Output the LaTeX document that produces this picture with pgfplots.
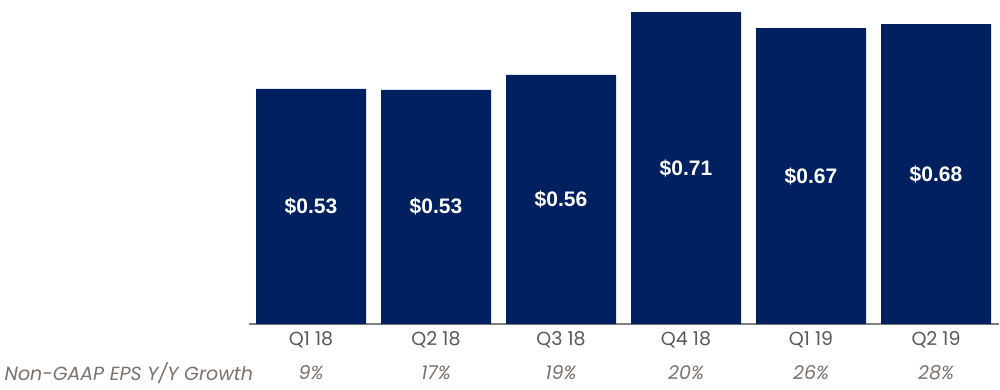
\documentclass[border=0pt]{standalone}
\usepackage{pgfplots}
\pgfplotsset{compat=1.18}
\usepackage{pgfplotstable}
\usepackage{fontspec}
\setmainfont{Poppins}
\newfontfamily\labfont{Liberation Sans}
\definecolor{navy}{HTML}{012060}
\definecolor{ticktxt}{HTML}{595959}
\definecolor{pcttxt}{HTML}{7A716B}
\definecolor{axline}{HTML}{7F7F7F}
\pgfplotstableread{
x v lab pct
0 0.533 0.53 9
1 0.531 0.53 17
2 0.565 0.56 19
3 0.707 0.71 20
4 0.671 0.67 26
5 0.680 0.68 28
}\eps
\begin{document}
\begin{tikzpicture}
\useasboundingbox (-248.5pt,-65pt) rectangle (751.5pt,324pt);
\begin{axis}[
  at={(0pt,0pt)}, anchor=south west,
  scale only axis, width=750pt, height=324pt,
  xmin=-0.5, xmax=5.5, ymin=0, ymax=0.7347,
  axis y line=none, axis x line*=bottom,
  x axis line style={draw=axline, line width=1.2pt, -},
  xtick=data, xticklabels={Q1 18,Q2 18,Q3 18,Q4 18,Q1 19,Q2 19},
  major tick length=0pt,
  xticklabel style={font=\fontsize{19}{22}\selectfont, text=ticktxt, yshift=-4pt},
  clip=false,
]
\addplot[ybar, bar width=110pt, fill=navy, draw=none, bar shift=0pt] table[x=x, y=v] {\eps};
\addplot[only marks, mark=none, point meta=explicit symbolic,
  nodes near coords={\$\pgfplotspointmeta},
  every node near coord/.style={anchor=center, text=white, font=\labfont\bfseries\fontsize{21}{25}\selectfont}]
  table[x=x, y expr=\thisrow{v}/2, meta=lab] {\eps};
\addplot[only marks, mark=none, point meta=explicit symbolic,
  nodes near coords={\pgfplotspointmeta\%},
  every node near coord/.style={anchor=center, yshift=-49pt, text=pcttxt, font=\itshape\fontsize{19}{22}\selectfont}]
  table[x=x, y expr=0, meta=pct] {\eps};
\end{axis}
\node[anchor=west, text=pcttxt, font=\itshape\fontsize{19}{22}\selectfont, inner sep=0pt] at (-244pt,-49pt) {Non-GAAP EPS Y/Y Growth};
\end{tikzpicture}
\end{document}
